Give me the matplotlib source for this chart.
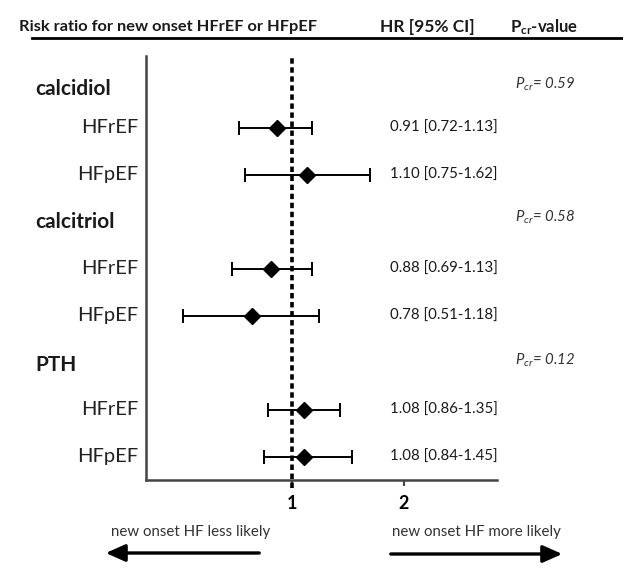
import numpy as np
import matplotlib
matplotlib.use("Agg")
import matplotlib.pyplot as plt
import matplotlib.transforms as mtransforms

plt.rcParams["font.family"] = ["Lato", "DejaVu Sans"]
plt.rcParams["mathtext.fontset"] = "custom"
plt.rcParams["mathtext.rm"] = "Lato"
plt.rcParams["mathtext.it"] = "Lato:italic"
plt.rcParams["mathtext.bf"] = "Lato:bold"

# data
groups = ["calcidiol", "calcitriol", "PTH"]
p_values = ["0.59", "0.58", "0.12"]
subtypes = ["HFrEF", "HFpEF"]
hr = [0.91, 1.10, 0.88, 0.78, 1.08, 1.08]
ci_low = [0.72, 0.75, 0.69, 0.51, 0.86, 0.84]
ci_high = [1.13, 1.62, 1.13, 1.18, 1.35, 1.45]

# row layout (one slot per estimate, group header in between)
item_y = np.array([0, 1, 3, 4, 6, 7])
head_y = np.array([-0.82, 2.0, 5.05])

fig = plt.figure(figsize=(6.23, 5.83), dpi=100)
ax = fig.add_axes([0.2343, 0.1767, 0.5634, 0.7273])

hr = np.array(hr)
err = np.vstack([hr - np.array(ci_low), np.array(ci_high) - hr])
ax.errorbar(hr, item_y, xerr=err, fmt="D", color="black", ms=8,
            elinewidth=1.4, capsize=5, capthick=1.4, zorder=3)
ax.axvline(1, color="black", lw=2.6, ls=(0, (1.5, 1.0)), zorder=2,
           ymin=-0.02, clip_on=False)

ax.set_xscale("log")
ax.set_xlim(0.405, 3.56)
ax.set_ylim(7.5, -1.53)
ax.set_xticks([1, 2])
ax.set_xticklabels(["1", "2"], fontweight="bold", fontsize=13)
ax.xaxis.set_minor_locator(matplotlib.ticker.NullLocator())
ax.set_yticks([])
ax.tick_params(axis="x", length=4, width=1.5, color="#444444", pad=7)
for s in ["top", "right"]:
    ax.spines[s].set_visible(False)
for s in ["left", "bottom"]:
    ax.spines[s].set_color("#444444")
    ax.spines[s].set_linewidth(1.8)

tr = mtransforms.blended_transform_factory(fig.transFigure, ax.transData)
txt = "#1a1a1a"
for i, g in enumerate(groups):
    fig.text(0.056, head_y[i], g, transform=tr, fontsize=15, fontweight="bold",
             va="center", ha="left", color=txt)
    fig.text(0.827, head_y[i] - 0.1, r"$P_{cr}$= " + p_values[i], transform=tr,
             fontsize=10.8, style="italic", va="center", ha="left", color="#333333")
for k, y in enumerate(item_y):
    fig.text(0.222, y, subtypes[k % 2], transform=tr, fontsize=14.5,
             va="center", ha="right", color="#222222")
    fig.text(0.626, y, "%.2f [%.2f-%.2f]" % (hr[k], ci_low[k], ci_high[k]),
             transform=tr, fontsize=10.8, va="center", ha="left", color=txt)

# header
fig.text(0.031, 1 - 27 / 583, "Risk ratio for new onset HFrEF or HFpEF",
         fontsize=11.8, fontweight="bold", va="center", color=txt)
fig.text(0.61, 1 - 27 / 583, "HR [95% CI]", fontsize=12.5, fontweight="bold",
         va="center", color=txt)
fig.text(0.818, 1 - 27 / 583, r"$\mathbf{P}_{\mathbf{cr}}$-value", fontsize=12,
         fontweight="bold", va="center", color=txt)
fig.add_artist(plt.Line2D([32 / 623, 1.0], [1 - 38 / 583] * 2, color="black",
                          lw=2.0, transform=fig.transFigure))

# direction arrows
fig.text(191 / 623, 1 - 532 / 583, "new onset HF less likely", fontsize=10.8,
         ha="center", va="center", color="#333333")
fig.text(476 / 623, 1 - 532 / 583, "new onset HF more likely", fontsize=10.8,
         ha="center", va="center", color="#333333")
arrow = dict(arrowstyle="-|>,head_length=0.9,head_width=0.4", lw=2.4, color="black")
fig.add_artist(matplotlib.patches.FancyArrowPatch(
    (262 / 623, 1 - 553 / 583), (103 / 623, 1 - 553 / 583),
    transform=fig.transFigure, mutation_scale=13, **arrow))
fig.add_artist(matplotlib.patches.FancyArrowPatch(
    (388 / 623, 1 - 554 / 583), (565 / 623, 1 - 554 / 583),
    transform=fig.transFigure, mutation_scale=13, **arrow))

fig.savefig("out.png", dpi=100)
